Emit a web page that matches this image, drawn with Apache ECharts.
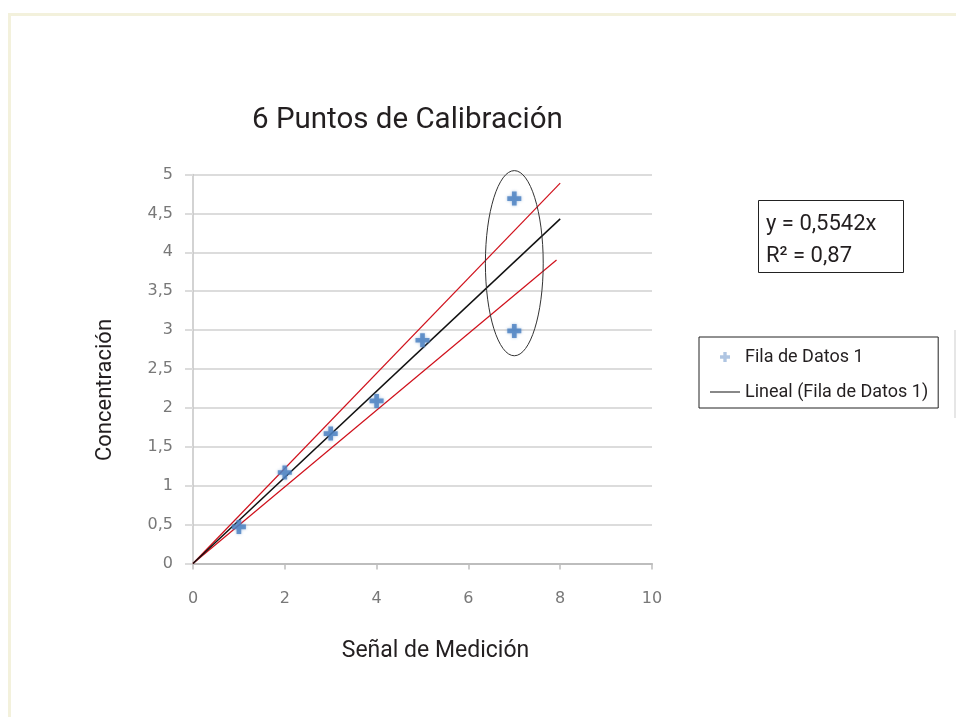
<!DOCTYPE html>
<html>
<head>
<meta charset="utf-8">
<title>6 Puntos de Calibración</title>
<script src="https://cdn.jsdelivr.net/npm/echarts@6/dist/echarts.min.js"></script>
<style>
  html, body { margin: 0; padding: 0; background: #fff; }
  #main { width: 956px; height: 717px; }
</style>
</head>
<body>
<div id="main"></div>
<script>
// puntos de calibracion
var senal = [1, 2, 3, 4, 5, 7, 7];
var concentracion = [0.47, 1.17, 1.67, 2.09, 2.87, 4.69, 2.99];

// linea de tendencia y bandas
var trendX = [0, 8];
var trendY = [0, 4.43];
var upperX = [0, 8];
var upperY = [0, 4.89];
var lowerX = [0, 7.92];
var lowerY = [0, 3.90];

// elipse alrededor de los puntos en x = 7 (centro y radios en unidades de datos)
var ellipseCenter = [7, 3.86];
var ellipseRadius = [0.63, 1.19];

function pairs(xs, ys) {
    var out = [];
    for (var i = 0; i < xs.length; i++) {
        out.push([xs[i], ys[i]]);
    }
    return out;
}

var plusPath = 'path://M4,0H8V4H12V8H8V12H4V8H0V4H4Z';
var dashPath = 'path://M0,0H30V1H0Z';
var chart = echarts.init(document.getElementById('main'));

var option = {
    backgroundColor: '#fff',
    animation: false,
    title: {
        text: '6 Puntos de Calibración',
        left: 247,
        top: 101,
        textStyle: {
            fontFamily: 'Roboto',
            fontSize: 29.5,
            fontWeight: 'normal',
            color: '#231f20'
        }
    },
    grid: {
        left: 193,
        right: 304,
        top: 174.5,
        bottom: 153.5
    },
    legend: {
        orient: 'vertical',
        left: 699,
        top: 337,
        padding: [11, 10, 7, 11],
        itemGap: 17,
        itemWidth: 30,
        itemHeight: 10,
        borderColor: '#222',
        borderWidth: 1,
        textStyle: {
            fontFamily: 'Roboto',
            fontSize: 18,
            color: '#231f20'
        },
        data: [
            {name: 'Fila de Datos 1', icon: plusPath, itemStyle: {color: '#9bb7db'}},
            {name: 'Lineal (Fila de Datos 1)', icon: dashPath, itemStyle: {color: '#111'}}
        ]
    },
    xAxis: {
        type: 'value',
        min: 0,
        max: 10,
        interval: 2,
        name: 'Señal de Medición',
        nameLocation: 'middle',
        nameGap: 76,
        nameTextStyle: {
            fontFamily: 'Roboto',
            fontSize: 23,
            color: '#231f20',
            padding: [0, 0, 0, 26]
        },
        axisLine: {show: true, lineStyle: {color: '#bdbdbd', width: 2}},
        axisTick: {show: true, length: 6, lineStyle: {color: '#bdbdbd', width: 1.5}},
        axisLabel: {
            margin: 27,
            fontFamily: 'DejaVu Sans',
            fontSize: 16,
            color: '#787878'
        },
        splitLine: {show: false}
    },
    yAxis: {
        type: 'value',
        min: 0,
        max: 5,
        interval: 0.5,
        name: 'Concentración',
        nameLocation: 'middle',
        nameRotate: 90,
        nameGap: 77,
        nameTextStyle: {
            fontFamily: 'Roboto',
            fontSize: 22,
            color: '#231f20',
            padding: [0, 42, 0, 0]
        },
        axisLine: {show: true, lineStyle: {color: '#c4c4c4', width: 1.5}},
        axisTick: {show: true, length: 8, lineStyle: {color: '#dcdcdc', width: 2}},
        axisLabel: {
            margin: 20,
            fontFamily: 'DejaVu Sans',
            fontSize: 16,
            color: '#787878',
            formatter: function (v) {
                return String(v).replace('.', ',');
            }
        },
        splitLine: {show: true, lineStyle: {color: '#dcdcdc', width: 2}}
    },
    series: [
        {
            name: 'banda superior',
            type: 'line',
            data: pairs(upperX, upperY),
            symbol: 'none',
            lineStyle: {color: '#d0101b', width: 1.2},
            z: 3
        },
        {
            name: 'banda inferior',
            type: 'line',
            data: pairs(lowerX, lowerY),
            symbol: 'none',
            lineStyle: {color: '#d0101b', width: 1.2},
            z: 3
        },
        {
            name: 'Lineal (Fila de Datos 1)',
            type: 'line',
            data: pairs(trendX, trendY),
            symbol: 'none',
            itemStyle: {color: '#111'},
            lineStyle: {color: '#111', width: 1.5},
            z: 4
        },
        {
            name: 'Fila de Datos 1',
            type: 'scatter',
            data: pairs(senal, concentracion),
            symbol: plusPath,
            symbolSize: 14,
            itemStyle: {
                color: '#4a7fc0',
                shadowBlur: 3,
                shadowColor: 'rgba(74,127,192,0.6)'
            },
            z: 5
        },
        {
            name: 'elipse',
            type: 'custom',
            data: [[ellipseCenter[0], ellipseCenter[1]]],
            renderItem: function (params, api) {
                var c = api.coord([api.value(0), api.value(1)]);
                var s = api.size([ellipseRadius[0], ellipseRadius[1]]);
                return {
                    type: 'ellipse',
                    shape: {cx: c[0], cy: c[1], rx: s[0], ry: s[1]},
                    style: {fill: null, stroke: '#333', lineWidth: 1}
                };
            },
            z: 6
        }
    ],
    graphic: [
        {
            type: 'polyline',
            shape: {points: [[9.5, 717], [9.5, 14.5], [956, 14.5]]},
            style: {stroke: '#f3f1dc', lineWidth: 3, fill: null},
            silent: true
        },
        {
            type: 'line',
            shape: {x1: 955, y1: 330, x2: 955, y2: 418},
            style: {stroke: '#dedede', lineWidth: 1.5},
            silent: true
        },
        {
            type: 'rect',
            shape: {x: 758.5, y: 200.5, width: 145, height: 72},
            style: {fill: '#fff', stroke: '#222', lineWidth: 1}
        },
        {
            type: 'text',
            x: 766,
            y: 224,
            style: {
                text: 'y = 0,5542x',
                fontFamily: 'Roboto',
                fontSize: 22,
                fill: '#231f20',
                verticalAlign: 'middle'
            }
        },
        {
            type: 'text',
            x: 766,
            y: 256,
            style: {
                text: 'R² = 0,87',
                fontFamily: 'Roboto',
                fontSize: 22,
                fill: '#231f20',
                verticalAlign: 'middle'
            }
        }
    ]
};

chart.setOption(option);
</script>
</body>
</html>
